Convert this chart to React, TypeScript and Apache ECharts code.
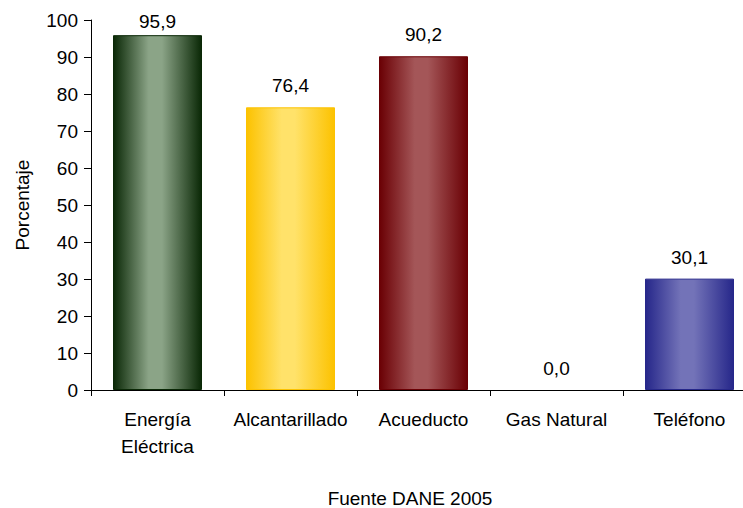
import React, { useEffect, useRef } from "react";
import * as echarts from "echarts";

const categories = ["Energía\nEléctrica", "Alcantarillado", "Acueducto", "Gas Natural", "Teléfono"];
const values = [95.9, 76.4, 90.2, 0.0, 30.1];
const edgeColors = ["#0a2806", "#fcc200", "#6a0004", "", "#26278a"];
const centerColors = ["#8ba487", "#ffe26a", "#a45658", "", "#7373b8"];
const yTicks = { min: 0, max: 100, interval: 10 };

export default function App() {
  const ref = useRef<HTMLDivElement>(null);
  useEffect(() => {
    const chart = echarts.init(ref.current!, null, { renderer: "svg" });
    const font = "'Liberation Sans', Arial, sans-serif";
    const fs = 19;
    const data = values.map((v, i) => ({
      value: v,
      itemStyle: edgeColors[i]
        ? {
            color: new echarts.graphic.LinearGradient(0, 0, 1, 0, [
              { offset: 0, color: edgeColors[i] },
              { offset: 0.4, color: centerColors[i] },
              { offset: 0.55, color: centerColors[i] },
              { offset: 1, color: edgeColors[i] },
            ]),
            borderColor: edgeColors[i],
            borderWidth: 1,
          }
        : undefined,
      label: i === 0 ? { distance: 4 } : undefined,
    }));
    chart.setOption({
      animation: false,
      backgroundColor: "#ffffff",
      grid: { left: 91, top: 20, width: 665, height: 370 },
      title: {
        text: "Fuente DANE 2005",
        left: 405,
        top: 484,
        textAlign: "center",
        textStyle: { fontFamily: font, fontSize: fs, fontWeight: "normal", color: "#000" },
      },
      xAxis: {
        type: "category",
        data: categories,
        axisLine: { lineStyle: { color: "#000", width: 1 } },
        axisTick: { show: true, length: 6, alignWithLabel: false, lineStyle: { color: "#000" } },
        axisLabel: {
          fontFamily: font,
          fontSize: fs,
          color: "#000",
          margin: 16,
          lineHeight: 27,
          interval: 0,
        },
      },
      yAxis: {
        type: "value",
        min: yTicks.min,
        max: yTicks.max,
        interval: yTicks.interval,
        name: "Porcentaje",
        nameLocation: "middle",
        nameGap: 59,
        nameRotate: 90,
        nameTextStyle: { fontFamily: font, fontSize: fs, color: "#000" },
        axisLine: { show: true, lineStyle: { color: "#000", width: 1 } },
        axisTick: { show: true, length: 7, lineStyle: { color: "#000" } },
        splitLine: { show: false },
        axisLabel: { fontFamily: font, fontSize: fs, color: "#000", margin: 13 },
      },
      series: [
        {
          type: "bar",
          data,
          barWidth: 89,
          label: {
            show: true,
            position: "top",
            distance: 12,
            fontFamily: font,
            fontSize: fs,
            color: "#000",
            formatter: (p: any) => Number(p.value).toFixed(1).replace(".", ","),
          },
        },
      ],
    });
    return () => chart.dispose();
  }, []);
  return (
    <div style={{ position: "absolute", left: 0, top: 0, width: 743, height: 508, overflow: "hidden" }}>
      <div ref={ref} style={{ width: 760, height: 508 }} />
    </div>
  );
}
